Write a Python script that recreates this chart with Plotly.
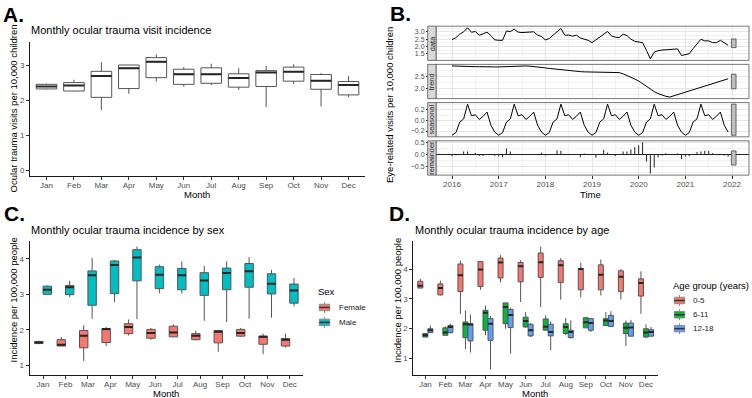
import plotly.graph_objects as go

W, H = 752, 398
FONT = "Liberation Sans, Arial, sans-serif"

months = ["Jan", "Feb", "Mar", "Apr", "May", "Jun", "Jul", "Aug", "Sep", "Oct", "Nov", "Dec"]

# ---------------- Panel A: overall monthly incidence (per 10,000 children) ----------------
a_lower  = [2.30, 2.25, 1.72, 2.18, 2.53, 2.38, 2.43, 2.29, 1.80, 2.46, 1.82, 2.08]
a_q1     = [2.32, 2.26, 2.08, 2.33, 2.64, 2.45, 2.48, 2.37, 2.39, 2.54, 2.31, 2.15]
a_median = [2.39, 2.42, 2.69, 2.91, 3.09, 2.74, 2.74, 2.63, 2.79, 2.81, 2.55, 2.43]
a_q3     = [2.45, 2.50, 2.82, 3.00, 3.21, 2.88, 2.92, 2.75, 2.84, 2.94, 2.73, 2.53]
a_upper  = [2.47, 2.58, 3.08, 3.00, 3.30, 2.94, 3.04, 2.91, 2.97, 3.02, 2.77, 2.69]

# ---------------- Panel B: STL decomposition 2016-2021 ----------------
start_year = 2016
data_vals = [
    2.47, 2.60, 2.84, 3.00, 3.28, 2.97, 3.02, 2.77, 2.86, 2.98, 2.74, 2.45,
    2.42, 2.42, 3.05, 3.02, 3.18, 2.98, 2.95, 2.95, 2.96, 3.00, 2.78, 2.68,
    2.45, 2.54, 2.77, 3.00, 3.23, 2.77, 2.78, 2.70, 2.77, 2.58, 2.49, 2.42,
    2.26, 2.45, 2.62, 2.80, 3.02, 2.72, 2.63, 2.61, 2.84, 2.74, 2.50, 2.35,
    2.31, 2.26, 1.73, 1.15, 1.61, 1.71, 1.75, 1.78, 1.80, 1.81, 1.83, 1.38,
    1.43, 1.50, 1.85, 2.19, 2.49, 2.38, 2.38, 2.26, 2.26, 2.42, 2.26, 2.08,
]
trend_vals = [
    2.92, 2.91, 2.91, 2.90, 2.90, 2.89, 2.89, 2.89, 2.88, 2.88, 2.88, 2.88,
    2.88, 2.89, 2.90, 2.91, 2.92, 2.92, 2.92, 2.92, 2.91, 2.90, 2.88, 2.86,
    2.84, 2.82, 2.80, 2.78, 2.76, 2.74, 2.72, 2.71, 2.70, 2.69, 2.68, 2.68,
    2.68, 2.68, 2.68, 2.68, 2.68, 2.68, 2.68, 2.65, 2.60, 2.54, 2.47, 2.39,
    2.31, 2.20, 2.09, 1.98, 1.88, 1.80, 1.74, 1.69, 1.66, 1.71, 1.76, 1.81,
    1.86, 1.90, 1.95, 2.00, 2.05, 2.10, 2.15, 2.20, 2.25, 2.30, 2.35, 2.40,
]
seasonal_pattern = [-0.28, -0.23, -0.03, 0.03, 0.31, 0.09, 0.11, 0.02, 0.08, 0.16, -0.09, -0.22]
seasonal_vals = seasonal_pattern * 6
remainder_vals = [
    -0.08, -0.04, 0.00, 0.12, 0.12, 0.00, 0.06, -0.07, -0.07, 0.00, -0.03, -0.06,
    -0.08, -0.12, 0.25, 0.12, 0.00, 0.01, 0.00, -0.01, 0.00, 0.01, 0.02, 0.07,
    -0.05, -0.03, 0.00, 0.17, 0.15, -0.03, 0.00, -0.02, -0.02, -0.12, 0.04, 0.00,
    -0.02, -0.14, 0.00, 0.19, 0.07, 0.00, -0.07, 0.00, 0.12, 0.12, 0.20, 0.30,
    0.38, 0.50, -0.30, -0.80, -0.55, -0.13, -0.05, 0.05, 0.00, -0.03, 0.04, -0.20,
    -0.10, -0.08, 0.00, 0.10, 0.12, 0.15, 0.14, 0.05, -0.03, 0.00, -0.05, -0.10,
]
time_vals = [start_year + k / 12 for k in range(len(data_vals))]
facet_names = ["data", "trend", "seasonal", "remainder"]
year_ticks = [2016, 2017, 2018, 2019, 2020, 2021, 2022]

# ---------------- Panel C: by sex (per 100,000 people) ----------------
sexes = ["Female", "Male"]
female_lower  = [1.61, 1.54, 1.12, 1.54, 1.84, 1.72, 1.80, 1.70, 1.38, 1.80, 1.31, 1.50]
female_q1     = [1.61, 1.54, 1.49, 1.64, 1.89, 1.76, 1.80, 1.72, 1.63, 1.82, 1.59, 1.54]
female_median = [1.64, 1.58, 1.83, 2.02, 2.08, 1.91, 1.92, 1.83, 1.94, 1.91, 1.80, 1.72]
female_q3     = [1.67, 1.72, 1.98, 2.03, 2.17, 2.01, 2.10, 1.89, 1.98, 2.01, 1.82, 1.75]
female_upper  = [1.69, 1.80, 2.13, 2.08, 2.29, 2.05, 2.15, 1.97, 1.98, 2.05, 1.89, 1.89]
male_lower  = [3.00, 2.92, 2.31, 2.78, 2.30, 3.03, 3.02, 2.25, 2.22, 2.31, 2.34, 2.66]
male_q1     = [3.00, 2.99, 2.69, 3.02, 3.38, 3.16, 3.13, 2.97, 3.13, 3.20, 3.01, 2.75]
male_median = [3.13, 3.20, 3.54, 3.83, 4.04, 3.55, 3.54, 3.39, 3.60, 3.65, 3.30, 3.11]
male_q3     = [3.23, 3.25, 3.66, 3.94, 4.26, 3.78, 3.73, 3.61, 3.74, 3.87, 3.58, 3.29]
male_upper  = [3.25, 3.38, 4.03, 3.97, 4.35, 3.84, 3.93, 3.80, 3.93, 4.05, 3.69, 3.46]

# ---------------- Panel D: by age group (per 100,000 people) ----------------
age_groups = ["0-5", "6-11", "12-18"]
age05_lower  = [3.36, 3.11, 2.49, 3.30, 3.55, 2.89, 2.72, 2.97, 3.05, 3.11, 2.97, 2.49]
age05_q1     = [3.36, 3.13, 3.24, 3.41, 3.70, 3.57, 3.72, 3.55, 3.30, 3.30, 3.24, 3.09]
age05_median = [3.44, 3.36, 3.79, 3.98, 4.22, 4.09, 4.23, 4.13, 4.00, 3.81, 3.74, 3.53]
age05_q3     = [3.59, 3.50, 4.17, 4.25, 4.37, 4.22, 4.54, 4.28, 4.02, 4.14, 3.94, 3.67]
age05_upper  = [3.67, 3.61, 4.28, 4.25, 4.47, 4.30, 4.75, 4.37, 4.21, 4.32, 4.00, 3.92]
age611_lower  = [1.71, 1.77, 1.30, 1.77, 1.99, 2.03, 1.94, 1.77, 2.02, 2.10, 1.41, 1.68]
age611_q1     = [1.71, 1.77, 1.69, 1.94, 2.16, 2.05, 1.94, 1.83, 2.02, 2.10, 1.83, 1.71]
age611_median = [1.77, 1.86, 2.14, 2.53, 2.72, 2.25, 2.06, 2.05, 2.21, 2.27, 2.02, 1.86]
age611_q3     = [1.83, 2.02, 2.22, 2.61, 2.86, 2.38, 2.32, 2.16, 2.36, 2.33, 2.18, 1.99]
age611_upper  = [1.85, 2.07, 2.61, 2.77, 2.86, 2.55, 2.44, 2.35, 2.38, 2.55, 2.27, 2.14]
age1218_lower  = [1.85, 1.83, 1.19, 0.62, 1.16, 1.71, 1.27, 1.66, 1.88, 2.05, 1.74, 1.74]
age1218_q1     = [1.86, 1.86, 1.58, 1.60, 2.03, 1.75, 1.75, 1.69, 1.94, 2.07, 1.74, 1.74]
age1218_median = [1.94, 2.05, 2.13, 2.16, 2.45, 1.94, 1.88, 1.88, 2.18, 2.25, 2.03, 1.88]
age1218_q3     = [1.99, 2.10, 2.16, 2.33, 2.64, 2.14, 2.14, 1.94, 2.33, 2.44, 2.18, 1.96]
age1218_upper  = [2.10, 2.16, 2.47, 2.42, 2.70, 2.18, 2.24, 2.27, 2.36, 2.58, 2.29, 2.05]

RED, TEAL = "#F8766D", "#00BFC4"
GREEN, BLUE = "#00BA38", "#619CFF"
BOX_LINE = "#555555"
TICK_COL = "#4D4D4D"
TICK_SIZE = 8


def fx(px):
    return px / W


def fy(py):
    return 1 - py / H


fig = go.Figure()


def add_boxes(xpos, lower, q1, med, q3, upper, fill, width, xa, ya):
    fig.add_trace(go.Box(
        x=xpos, lowerfence=lower, q1=q1, median=med, q3=q3, upperfence=upper,
        width=width, fillcolor=fill, line=dict(color=BOX_LINE, width=1),
        whiskerwidth=0, boxpoints=False, xaxis=xa, yaxis=ya,
        showlegend=False, hoverinfo="skip"))
    mx, my = [], []
    for p, m in zip(xpos, med):
        mx += [p - width / 2, p + width / 2, None]
        my += [m, m, None]
    fig.add_trace(go.Scatter(x=mx, y=my, mode="lines", line=dict(color="#262626", width=2),
                             xaxis=xa, yaxis=ya, showlegend=False, hoverinfo="skip"))


idx = list(range(len(months)))

# Panel A
add_boxes(idx, a_lower, a_q1, a_median, a_q3, a_upper, "white", 0.75, "x", "y")

# Panel C
c_w = 0.375
add_boxes([i - c_w / 2 for i in idx], female_lower, female_q1, female_median, female_q3, female_upper,
          RED, c_w, "x6", "y6")
add_boxes([i + c_w / 2 for i in idx], male_lower, male_q1, male_median, male_q3, male_upper,
          TEAL, c_w, "x6", "y6")

# Panel D
d_w = 0.25
add_boxes([i - d_w for i in idx], age05_lower, age05_q1, age05_median, age05_q3, age05_upper,
          RED, d_w, "x7", "y7")
add_boxes(idx, age611_lower, age611_q1, age611_median, age611_q3, age611_upper,
          GREEN, d_w, "x7", "y7")
add_boxes([i + d_w for i in idx], age1218_lower, age1218_q1, age1218_median, age1218_q3, age1218_upper,
          BLUE, d_w, "x7", "y7")

# Panel B traces
series = [data_vals, trend_vals, seasonal_vals, remainder_vals]
for k, s in enumerate(series[:3]):
    fig.add_trace(go.Scatter(x=time_vals, y=s, mode="lines", line=dict(color="black", width=1),
                             xaxis=f"x{k + 2}", yaxis=f"y{k + 2}", showlegend=False, hoverinfo="skip"))
rx, ry = [], []
for t, r in zip(time_vals, remainder_vals):
    rx += [t, t, None]
    ry += [0, r, None]
fig.add_trace(go.Scatter(x=rx, y=ry, mode="lines", line=dict(color="#222222", width=1),
                         xaxis="x5", yaxis="y5", showlegend=False, hoverinfo="skip"))

# Range bars (same absolute length in every facet = smallest series range)
bar_len = min(max(s) - min(s) for s in series)
bar_x0 = time_vals[-1] + 0.07
bar_x1 = time_vals[-1] + 0.17

shapes = []
annotations = []

# ---------------- Layout for box panels ----------------
common_x = dict(range=[-0.6, 11.6], tickvals=idx, ticktext=months, showline=True, linecolor="#1a1a1a",
                linewidth=1, ticks="outside", ticklen=3, tickcolor="#333333", tickwidth=1,
                ticklabelstandoff=-2,
                tickfont=dict(size=TICK_SIZE, color=TICK_COL), showgrid=False, zeroline=False)
common_y = dict(showline=True, linecolor="#1a1a1a", linewidth=1, ticks="outside", ticklen=3,
                tickcolor="#333333", tickwidth=1, tickfont=dict(size=TICK_SIZE, color=TICK_COL),
                showgrid=False, zeroline=False)

layout = dict(
    width=W, height=H, margin=dict(l=0, r=0, t=0, b=0),
    paper_bgcolor="white", plot_bgcolor="white",
    font=dict(family=FONT, color="black"), showlegend=False,
    xaxis=dict(domain=[fx(30), fx(365)], anchor="y", **common_x),
    yaxis=dict(domain=[fy(175), fy(40)], anchor="x", range=[-0.16, 3.66], tickvals=[0, 1, 2, 3], **common_y),
    xaxis6=dict(domain=[fx(29.6), fx(303.2)], anchor="y6", **common_x),
    yaxis6=dict(domain=[fy(375), fy(240)], anchor="x6", range=[0.72, 4.51], tickvals=[1, 2, 3, 4], **common_y),
    xaxis7=dict(domain=[fx(413.3), fx(658)], anchor="y7", **common_x),
    yaxis7=dict(domain=[fy(375), fy(240)], anchor="x7", range=[0.43, 4.95], tickvals=[1, 2, 3, 4], **common_y),
)

# ---------------- Layout for STL facets ----------------
b_left, b_right = 436, 749
panel_px = [(24.3, 58.7), (62.7, 97.1), (101.1, 135.5), (139.5, 174.0)]
dticks = [0.5, 0.5, 0.2, 0.5]
x_range = [2015.657, 2022.364]
for k in range(4):
    n = k + 2
    s = series[k]
    lo, hi = min(s), max(s)
    mid = (lo + hi) / 2
    blo, bhi = mid - bar_len / 2, mid + bar_len / 2
    lo2, hi2 = min(lo, blo), max(hi, bhi)
    span = hi2 - lo2
    yr = [lo2 - 0.05 * span, hi2 + 0.05 * span]
    top, bot = panel_px[k]
    layout[f"xaxis{n}"] = dict(
        domain=[fx(b_left), fx(b_right)], anchor=f"y{n}", range=x_range,
        tickvals=year_ticks, showgrid=True, gridcolor="#E6E6E6", gridwidth=0.8,
        minor=dict(dtick=0.5, tick0=2015.5, showgrid=True, gridcolor="#F2F2F2", gridwidth=0.6),
        zeroline=False, showline=False,
        showticklabels=(k == 3), ticks=("outside" if k == 3 else ""), ticklen=3,
        ticklabelstandoff=-2,
        tickcolor="#333333", tickfont=dict(size=TICK_SIZE, color=TICK_COL),
    )
    layout[f"yaxis{n}"] = dict(
        domain=[fy(bot), fy(top)], anchor=f"x{n}", range=yr, dtick=dticks[k], tick0=0,
        tickformat=".1f", showgrid=True, gridcolor="#E6E6E6", gridwidth=0.8,
        minor=dict(dtick=dticks[k] / 2, showgrid=True, gridcolor="#F2F2F2", gridwidth=0.6),
        zeroline=(k == 3), zerolinecolor="#222222", zerolinewidth=1,
        showline=False, ticks="outside", ticklen=9, tickcolor="#333333", tickwidth=0.6,
        tickfont=dict(size=7, color=TICK_COL),
    )
    # range bar
    shapes.append(dict(type="rect", xref=f"x{n}", yref=f"y{n}", x0=bar_x0, x1=bar_x1, y0=blo, y1=bhi,
                       fillcolor="#BFBFBF", line=dict(color="#333333", width=0.7), layer="above"))
    # panel border
    shapes.append(dict(type="rect", xref="paper", yref="paper", x0=fx(b_left), x1=fx(b_right),
                       y0=fy(bot), y1=fy(top), line=dict(color="#555555", width=0.8), layer="above"))
    # strip
    shapes.append(dict(type="rect", xref="paper", yref="paper", x0=fx(427.7), x1=fx(b_left),
                       y0=fy(bot), y1=fy(top), fillcolor="#D9D9D9",
                       line=dict(color="#555555", width=0.8), layer="above"))
    annotations.append(dict(text=facet_names[k], x=fx((427.7 + b_left) / 2), y=fy((top + bot) / 2),
                            xref="paper", yref="paper", showarrow=False, textangle=-90,
                            font=dict(size=7.4, color="#1A1A1A"), xanchor="center", yanchor="middle"))


def label(text, x, y, size, anchor="left", angle=0, bold=False, color="black"):
    annotations.append(dict(text=(f"<b>{text}</b>" if bold else text), x=fx(x), y=fy(y),
                            xref="paper", yref="paper", showarrow=False, textangle=angle,
                            xanchor=anchor, yanchor="middle", font=dict(size=size, color=color, family=FONT)))


# Panel letters
label("A.", 1, 13, 21, bold=True)
label("B.", 388, 12, 21, bold=True)
label("C.", 2, 213, 21, bold=True)
label("D.", 387, 213, 21, bold=True)

# Titles
label("Monthly ocular trauma visit incidence", 29, 28, 11)
label("Monthly ocular trauma incidence by sex", 29, 229, 11)
label("Monthly ocular trauma incidence by age", 413, 229, 11)

# Axis titles
label("Month", 197, 193, 9.5, anchor="center")
label("Ocular trauma visits per 10,000 children", 13, 107, 9.5, anchor="center", angle=-90)
label("Time", 590, 193, 9.5, anchor="center")
label("Eye-related visits per 10,000 children", 389.5, 104, 9.5, anchor="center", angle=-90)
label("Month", 166, 393, 9.5, anchor="center")
label("Incidence per 100,000 people", 13, 300, 9.5, anchor="center", angle=-90)
label("Month", 535, 393, 9.5, anchor="center")
label("Incidence per 100,000 people", 397.5, 300, 9.5, anchor="center", angle=-90)


# Manual legends (mini boxplot keys)
def legend_key(x0, yc, fill, kw=13, kh=13):
    xc = x0 + kw / 2
    shapes.append(dict(type="line", xref="paper", yref="paper", x0=fx(xc), x1=fx(xc),
                       y0=fy(yc - kh / 2 + 1), y1=fy(yc + kh / 2 - 1), line=dict(color="#8C8C8C", width=1)))
    shapes.append(dict(type="rect", xref="paper", yref="paper", x0=fx(x0 + 1.3), x1=fx(x0 + kw - 1.3),
                       y0=fy(yc + kh / 4), y1=fy(yc - kh / 4), fillcolor=fill,
                       line=dict(color="#8C8C8C", width=1)))
    shapes.append(dict(type="line", xref="paper", yref="paper", x0=fx(x0 + 1.3), x1=fx(x0 + kw - 1.3),
                       y0=fy(yc), y1=fy(yc), line=dict(color="#333333", width=1.5)))


label("Sex", 316, 291, 9.5)
for name, col, yc in zip(sexes, [RED, TEAL], [307, 322]):
    legend_key(318, yc, col)
    label(name, 336.5, yc, TICK_SIZE, color="#1A1A1A")

label("Age group (years)", 671, 285, 9.5)
for name, col, yc in zip(age_groups, [RED, GREEN, BLUE], [300, 314.3, 328.3]):
    legend_key(673, yc, col)
    label(name, 691, yc, TICK_SIZE, color="#1A1A1A")

layout["shapes"] = shapes
layout["annotations"] = annotations
fig.update_layout(**layout)
fig.write_html("out.html", config={"displayModeBar": False},
               post_script="document.body.style.margin='0px';document.body.style.padding='0px';")
